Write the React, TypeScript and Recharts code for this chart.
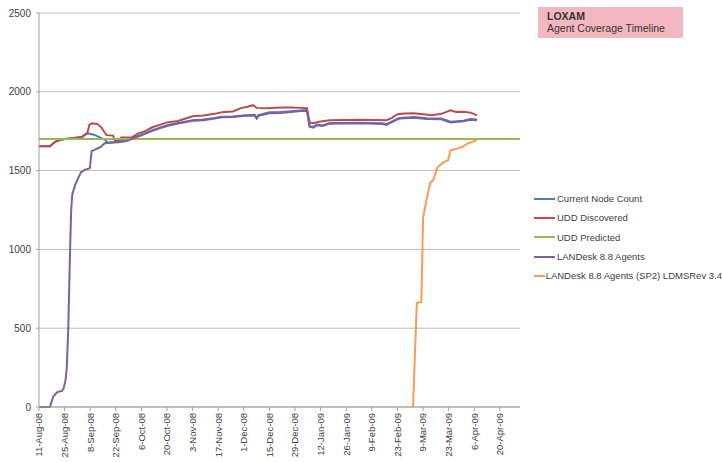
import React from 'react';
import { LineChart, Line, XAxis, YAxis, CartesianGrid } from 'recharts';

// x values are days since 11-Aug-08
const tickDays = [0, 14, 28, 42, 56, 70, 84, 98, 112, 126, 140, 154, 168, 182, 196, 210, 224, 238, 252];
const tickLabels = [
  '11-Aug-08', '25-Aug-08', '8-Sep-08', '22-Sep-08', '6-Oct-08', '20-Oct-08', '3-Nov-08',
  '17-Nov-08', '1-Dec-08', '15-Dec-08', '29-Dec-08', '12-Jan-09', '26-Jan-09', '9-Feb-09',
  '23-Feb-09', '9-Mar-09', '23-Mar-09', '6-Apr-09', '20-Apr-09',
];
const yTicks = [0, 500, 1000, 1500, 2000, 2500];

const currentNodeCount: [number, number][] = [
  [0, 1655], [6, 1655], [8, 1675], [10, 1690], [14, 1700], [20, 1708], [23.5, 1715], [25, 1730],
  [27, 1735], [30, 1728], [33, 1712], [36, 1695], [37.5, 1678], [40, 1678], [43.5, 1684],
  [48, 1692], [52, 1710], [58, 1737], [62, 1757], [66, 1772], [70.5, 1789], [76, 1802],
  [84, 1820], [90, 1824], [96, 1834], [100, 1842], [106, 1844], [113, 1852], [118, 1854],
  [119, 1834], [120, 1852], [126, 1870], [132, 1872], [138, 1877], [143, 1882], [146.5, 1884],
  [148, 1782], [150, 1777], [152, 1792], [155, 1787], [159, 1802], [175, 1804], [188, 1800],
  [190, 1794], [193, 1812], [197, 1834], [205, 1840], [212, 1832], [220, 1830], [225, 1810],
  [232, 1817], [236, 1827], [239.5, 1824],
];

const uddDiscovered: [number, number][] = [
  [0, 1655], [6, 1655], [8, 1675], [10, 1690], [14, 1700], [20, 1708], [23.5, 1712], [25, 1725],
  [26.5, 1740], [27.5, 1790], [29, 1800], [32, 1795], [34, 1775], [36, 1740], [37, 1725],
  [40.5, 1722], [41.5, 1692], [43.5, 1690], [45, 1710], [51, 1712], [54, 1735], [58, 1750],
  [62, 1775], [66, 1790], [70, 1806], [76, 1815], [84, 1845], [90, 1850], [96, 1860],
  [100, 1870], [106, 1875], [110, 1895], [114, 1905], [117, 1915], [119, 1898], [125, 1896],
  [132, 1900], [138, 1900], [143, 1898], [146.5, 1896], [148, 1806], [150, 1800], [153, 1810],
  [159, 1820], [175, 1822], [190, 1820], [193, 1835], [196, 1858], [200, 1862], [205, 1864],
  [210, 1858], [215, 1852], [220, 1860], [225, 1882], [228, 1872], [232, 1874], [236, 1868],
  [239.5, 1850],
];

const uddPredicted: [number, number][] = [
  [0, 1700], [263, 1700],
];

const landesk88: [number, number][] = [
  [0, 0], [6, 0], [7, 40], [8, 70], [10, 95], [12.5, 102], [13.5, 120], [14.5, 170], [15.2, 250],
  [16, 500], [17, 1000], [17.6, 1250], [18.2, 1350], [19.7, 1406], [21.3, 1450], [23, 1490],
  [25, 1505], [27.8, 1515], [28.8, 1625], [30, 1630], [33.4, 1648], [36, 1673], [40, 1678],
  [43.5, 1680], [48, 1688], [52, 1706], [58, 1733], [62, 1753], [66, 1768], [70.5, 1785],
  [76, 1798], [84, 1816], [90, 1820], [96, 1830], [100, 1838], [106, 1840], [113, 1848],
  [118, 1850], [119, 1830], [120, 1848], [126, 1864], [132, 1866], [138, 1872], [143, 1878],
  [146.5, 1880], [148, 1778], [150, 1773], [152, 1788], [155, 1783], [159, 1798], [175, 1800],
  [188, 1796], [190, 1790], [193, 1808], [197, 1830], [205, 1836], [212, 1828], [220, 1826],
  [225, 1806], [232, 1813], [236, 1823], [239.5, 1820],
];

const landesk88sp2: [number, number][] = [
  [204.5, 0], [206.6, 662], [209, 665], [209.5, 900], [210, 1200], [212, 1323], [214, 1425],
  [215.5, 1438], [217.6, 1514], [219, 1533], [221, 1552], [223.6, 1565], [225, 1628],
  [229, 1641], [231, 1648], [234.5, 1673], [237, 1682], [239.5, 1695],
];

const toPoints = (arr: [number, number][]) => arr.map(([day, value]) => ({ day, value }));

const series = [
  { name: 'Current Node Count', color: '#4A7EBB', data: currentNodeCount },
  { name: 'UDD Discovered', color: '#BE4B48', data: uddDiscovered },
  { name: 'UDD Predicted', color: '#98B954', data: uddPredicted },
  { name: 'LANDesk 8.8 Agents', color: '#7D60A0', data: landesk88 },
  { name: 'LANDesk 8.8 Agents (SP2) LDMSRev 3.4', color: '#F59D56', data: landesk88sp2 },
];

const FONT = '"Liberation Sans", Arial, sans-serif';
const TEXT = '#404040';

const XTick = (props: any) => {
  const { x, y, payload } = props;
  const idx = tickDays.indexOf(payload.value);
  const label = idx >= 0 ? tickLabels[idx] : '';
  return (
    <text
      x={x}
      y={y}
      transform={`rotate(-90 ${x} ${y})`}
      textAnchor="end"
      dy="0.35em"
      fontSize={9.5}
      fill={TEXT}
      fontFamily={FONT}
    >
      {label}
    </text>
  );
};

const LegendBlock = () => (
  <div style={{ position: 'absolute', left: 534, top: 189, width: 188, fontFamily: FONT, fontSize: 9.5, color: TEXT }}>
    {series.map((s) => (
      <div key={s.name} style={{ display: 'flex', alignItems: 'center', height: 19.3, whiteSpace: 'nowrap' }}>
        <svg width={22} height={4} style={{ marginRight: 1 }}>
          <line x1={0} y1={2} x2={21} y2={2} stroke={s.color} strokeWidth={2} />
        </svg>
        <span>{s.name}</span>
      </div>
    ))}
  </div>
);

export default function App() {
  return (
    <div style={{ position: 'absolute', left: 0, top: 0, width: 722, height: 462, background: '#fff', overflow: 'hidden' }}>
      <LineChart width={722} height={462} margin={{ top: 13, right: 202, bottom: 0, left: 0 }}>
        <CartesianGrid vertical={false} stroke="#BDBDBD" strokeWidth={1} />
        <XAxis
          type="number"
          dataKey="day"
          domain={[0, 263]}
          ticks={tickDays}
          interval={0}
          height={55}
          tickSize={4}
          tickMargin={2}
          tick={<XTick />}
          axisLine={{ stroke: '#A0A0A0' }}
          tickLine={{ stroke: '#A0A0A0' }}
          allowDataOverflow
        />
        <YAxis
          type="number"
          domain={[0, 2500]}
          ticks={yTicks}
          interval={0}
          width={39}
          tickSize={3}
          tickMargin={5}
          tick={{ fontSize: 10, fill: TEXT, fontFamily: FONT }}
          axisLine={{ stroke: '#A0A0A0' }}
          tickLine={{ stroke: '#A0A0A0' }}
        />
        {series.map((s) => (
          <Line
            key={s.name}
            name={s.name}
            data={toPoints(s.data)}
            dataKey="value"
            type="linear"
            stroke={s.color}
            strokeWidth={2}
            dot={false}
            activeDot={false}
            isAnimationActive={false}
          />
        ))}
      </LineChart>
      <LegendBlock />
      <div
        style={{
          position: 'absolute', left: 538, top: 7, width: 145, height: 31, background: '#F3B8BF',
          fontFamily: FONT, color: '#333', fontSize: 10.5, lineHeight: '12px', boxSizing: 'border-box', padding: '3px 0 0 9px',
        }}
      >
        <div style={{ fontWeight: 'bold' }}>LOXAM</div>
        <div>Agent Coverage Timeline</div>
      </div>
    </div>
  );
}
